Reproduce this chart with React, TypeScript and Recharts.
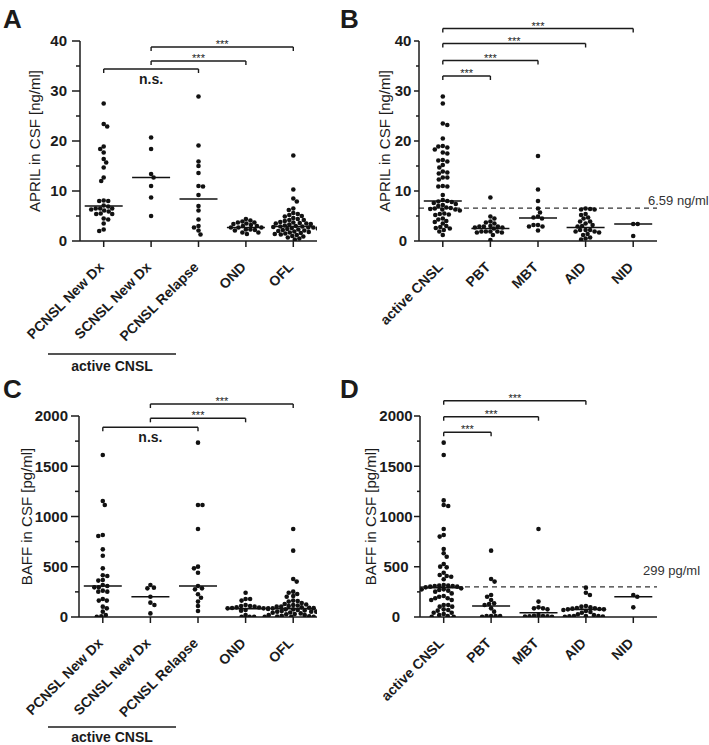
import React from 'react';
import { ScatterChart, Scatter, XAxis, YAxis, ReferenceLine, ReferenceDot } from 'recharts';

const FONT = '"Liberation Sans", Arial, Helvetica, sans-serif';
const INK = '#1b1b1b';

// ---------- categories ----------
const groupsAC = ['PCNSL New Dx', 'SCNSL New Dx', 'PCNSL Relapse', 'OND', 'OFL'];
const groupsBD = ['active CNSL', 'PBT', 'MBT', 'AID', 'NID'];

// ---------- tick values ----------
const aprilTicks = [0, 5, 10, 15, 20, 25, 30, 35, 40];
const baffTicks = [0, 250, 500, 750, 1000, 1250, 1500, 1750, 2000];

// ---------- Panel A: APRIL (ng/ml) ----------
const aprilPcnslNew = [27.5, 23.4, 22.9, 18.9, 18.4, 17.7, 16.4, 15.7, 14.7, 12.7, 12.0, 8.1, 8.0, 8.0, 7.1, 6.9, 6.5, 6.5, 6.5, 6.3, 6.1, 5.9, 5.5, 5.4, 5.4, 4.5, 4.3, 3.5, 2.3, 2.0];
const aprilScnslNew = [20.7, 18.4, 13.4, 12.7, 11.0, 8.7, 5.0];
const aprilPcnslRelapse = [28.9, 19.1, 15.9, 15.0, 13.6, 11.0, 10.9, 9.2, 7.0, 6.1, 4.3, 3.0, 2.7, 2.1, 1.3];
const aprilOnd = [4.4, 4.1, 3.9, 3.7, 3.7, 3.5, 3.4, 3.2, 3.0, 3.0, 2.7, 2.7, 2.7, 2.3, 2.3, 2.2, 2.1, 1.7, 1.7, 1.4];
const aprilOfl = [17.1, 10.3, 8.5, 7.9, 6.5, 6.2, 5.6, 5.4, 5.2, 5.0, 4.9, 4.6, 4.4, 4.2, 4.2, 4.0, 3.8, 3.7, 3.6, 3.5, 3.5, 3.4, 3.3, 3.1, 3.0, 2.9, 2.9, 2.8, 2.7, 2.7, 2.6, 2.5, 2.4, 2.3, 2.2, 2.1, 2.0, 1.9, 1.8, 1.7, 1.6, 1.5, 1.4, 1.3, 1.2, 1.0, 0.9, 0.7, 0.5, 0.3];
const aprilMediansA = [7.0, 12.7, 8.4, 2.7, 2.9];

// ---------- Panel B: APRIL (ng/ml) ----------
const aprilActive = [28.9, 27.5, 23.5, 23.2, 20.5, 19.0, 18.9, 18.7, 18.3, 17.7, 17.5, 16.2, 16.1, 15.9, 15.2, 14.7, 13.9, 13.7, 13.5, 12.7, 12.7, 12.3, 11.0, 10.9, 10.9, 9.2, 8.2, 8.0, 7.9, 7.8, 7.6, 7.4, 7.2, 7.0, 6.7, 6.6, 6.5, 6.4, 6.3, 6.3, 6.1, 5.5, 5.4, 5.3, 5.2, 4.5, 4.3, 4.0, 3.8, 3.5, 3.0, 2.8, 2.6, 2.5, 2.2, 1.9, 1.2];
const aprilPbt = [8.7, 4.9, 4.5, 3.9, 3.7, 3.5, 3.0, 2.9, 2.9, 2.9, 2.7, 2.7, 2.5, 1.9, 1.9, 1.9, 1.9, 1.7, 1.7, 1.2, 0.2];
const aprilMbt = [17.0, 10.3, 8.0, 6.5, 5.7, 4.9, 4.7, 4.5, 3.2, 3.2, 2.9, 2.9, 2.1];
const aprilAid = [6.5, 6.4, 6.3, 6.3, 5.4, 5.2, 4.7, 4.5, 3.9, 3.9, 3.5, 3.2, 3.0, 2.9, 2.2, 2.2, 2.2, 1.9, 1.9, 1.7, 1.4, 1.2, 0.7, 0.5, 0.3];
const aprilNid = [3.4, 3.4, 1.0];
const aprilMediansB = [8.0, 2.5, 4.6, 2.7, 3.4];
const aprilCutoff = 6.59;

// ---------- Panel C: BAFF (pg/ml) ----------
const baffPcnslNew = [1612, 1154, 1114, 816, 806, 673, 610, 484, 415, 408, 368, 362, 318, 308, 295, 295, 262, 252, 252, 179, 163, 163, 103, 86, 53, 20, 7, 3];
const baffScnslNew = [318, 292, 285, 202, 143, 119, 36];
const baffPcnslRelapse = [1735, 1114, 1114, 876, 501, 484, 441, 308, 285, 275, 226, 192, 153, 109, 60];
const baffOnd = [242, 179, 179, 163, 119, 109, 109, 103, 96, 95, 90, 86, 86, 80, 70, 63, 20, 3, 3, 3];
const baffOfl = [876, 660, 378, 352, 252, 242, 229, 209, 202, 163, 159, 153, 140, 130, 125, 119, 115, 109, 103, 103, 96, 92, 88, 86, 86, 76, 76, 70, 65, 60, 53, 53, 53, 45, 43, 36, 30, 27, 20, 20, 20, 12, 8, 5, 3, 3, 3, 2];
const baffMediansC = [308, 202, 308, 83, 83];

// ---------- Panel D: BAFF (pg/ml) ----------
const baffActive = [1735, 1612, 1160, 1114, 1104, 876, 816, 800, 677, 634, 600, 527, 501, 494, 441, 418, 408, 401, 375, 318, 312, 312, 308, 308, 302, 302, 295, 285, 275, 275, 269, 262, 252, 235, 209, 202, 186, 186, 169, 169, 119, 119, 103, 103, 76, 70, 63, 43, 43, 30, 20, 10, 3, 3];
const baffPbt = [660, 378, 352, 219, 202, 169, 136, 129, 119, 86, 53, 10, 10, 10, 10, 3];
const baffMbt = [876, 153, 96, 86, 86, 76, 20, 12, 10, 8, 6, 4, 2];
const baffAid = [292, 242, 219, 109, 103, 96, 90, 86, 83, 80, 76, 76, 70, 60, 50, 43, 27, 20, 10, 10, 10, 8, 5, 3];
const baffNid = [219, 202, 96];
const baffMediansD = [292, 109, 43, 76, 202];
const baffCutoff = 299;

// ---------- significance brackets (from group, to group, level, text) ----------
type Bracket = { from: number; to: number; y: number; label: string };
const bracketsA: Bracket[] = [
  { from: 0, to: 2, y: 34.4, label: 'n.s.' },
  { from: 1, to: 3, y: 36.0, label: '***' },
  { from: 1, to: 4, y: 38.8, label: '***' },
];
const bracketsB: Bracket[] = [
  { from: 0, to: 1, y: 33.0, label: '***' },
  { from: 0, to: 2, y: 36.1, label: '***' },
  { from: 0, to: 3, y: 39.5, label: '***' },
  { from: 0, to: 4, y: 42.5, label: '***' },
];
const bracketsC: Bracket[] = [
  { from: 0, to: 2, y: 1888, label: 'n.s.' },
  { from: 1, to: 3, y: 1977, label: '***' },
  { from: 1, to: 4, y: 2119, label: '***' },
];
const bracketsD: Bracket[] = [
  { from: 0, to: 1, y: 1838, label: '***' },
  { from: 0, to: 2, y: 1993, label: '***' },
  { from: 0, to: 3, y: 2152, label: '***' },
];

// Deterministic column-scatter (beeswarm) layout derived from values
function swarm(values: number[], center: number, pxX: number, pxY: number, d: number) {
  const placed: [number, number][] = [];
  const out: { x: number; y: number }[] = [];
  const sorted = [...values].sort((a, b) => b - a);
  sorted.forEach((v) => {
    const py = v * pxY;
    let chosen = 0;
    const right = placed.filter((q) => q[0] > 0).length;
    const left = placed.filter((q) => q[0] < 0).length;
    for (let k = 0; k < 600; k++) {
      const mag = k * 0.5;
      const cands = k === 0 ? [0] : right <= left ? [mag, -mag] : [-mag, mag];
      let ok = false;
      for (const c of cands) {
        if (placed.every(([qx, qy]) => (qx - c) ** 2 + (qy - py) ** 2 >= d * d)) {
          chosen = c;
          ok = true;
          break;
        }
      }
      if (ok) break;
    }
    placed.push([chosen, py]);
    out.push({ x: center + chosen / pxX, y: v });
  });
  return out;
}

interface PanelProps {
  left: number;
  top: number;
  width: number;
  height: number;
  margin: { top: number; right: number; bottom: number; left: number };
  yAxisWidth: number;
  xAxisHeight: number;
  groups: string[];
  values: number[][];
  medians: number[];
  yMax: number;
  ticks: number[];
  majorStep: number;
  yLabel: string;
  yLabelOffset: number;
  tickMajorLen: number;
  tickMinorLen: number;
  tickLabelGap: number;
  tickAnchor: 'end' | 'middle';
  brackets: Bracket[];
  cutoff?: number;
  cutoffLabel?: string;
  cutoffDx?: number;
  cutoffDy?: number;
}

function Panel(p: PanelProps) {
  const plotW = p.width - p.margin.left - p.margin.right - p.yAxisWidth;
  const plotH = p.height - p.margin.top - p.margin.bottom - p.xAxisHeight;
  const pxX = plotW / 5;
  const pxY = plotH / p.yMax;
  const dotSets = p.values.map((vals, i) => swarm(vals, i, pxX, pxY, 4.3));
  const medianPts = p.medians.map((m, i) => ({ x: i, y: m }));
  const tickU = 4 / pxY;

  const yTick = (t: any) => {
    const v = t.payload.value;
    const major = v % p.majorStep === 0;
    const len = major ? p.tickMajorLen : p.tickMinorLen;
    return (
      <g>
        <line x1={t.x - len} x2={t.x} y1={t.y} y2={t.y} stroke={INK} strokeWidth={1.5} />
        {major && (
          <text
            x={t.x - p.tickLabelGap}
            y={t.y}
            dy="0.36em"
            textAnchor={p.tickAnchor}
            fontSize={15}
            fontWeight="bold"
            fontFamily={FONT}
            fill={INK}
          >
            {v}
          </text>
        )}
      </g>
    );
  };

  const xTick = (t: any) => {
    const name = p.groups[t.payload.value] ?? '';
    const ax = t.x + 1;
    const ay = t.y + 21;
    return (
      <text
        x={ax}
        y={ay}
        transform={`rotate(-45 ${ax} ${ay})`}
        textAnchor="end"
        fontSize={14}
        fontWeight="bold"
        fontFamily={FONT}
        fill={INK}
      >
        {name}
      </text>
    );
  };

  return (
    <div style={{ position: 'absolute', left: p.left, top: p.top }}>
      <ScatterChart width={p.width} height={p.height} margin={p.margin}>
        <XAxis
          type="number"
          dataKey="x"
          domain={[-0.5, 4.5]}
          ticks={[0, 1, 2, 3, 4]}
          interval={0}
          allowDataOverflow
          height={p.xAxisHeight}
          tickSize={6}
          tickMargin={0}
          axisLine={{ stroke: INK, strokeWidth: 1.5 }}
          tickLine={{ stroke: INK, strokeWidth: 1.5 }}
          tick={xTick}
        />
        <YAxis
          type="number"
          dataKey="y"
          domain={[0, p.yMax]}
          ticks={p.ticks}
          interval={0}
          allowDataOverflow
          width={p.yAxisWidth}
          tickSize={0}
          tickMargin={0}
          tickLine={false}
          axisLine={{ stroke: INK, strokeWidth: 1.5 }}
          tick={yTick}
          label={{
            value: p.yLabel,
            angle: -90,
            position: 'insideLeft',
            offset: p.yLabelOffset,
            style: { textAnchor: 'middle', fontSize: 15, fill: INK, fontFamily: FONT },
          }}
        />
        {p.cutoff !== undefined && (
          <ReferenceLine y={p.cutoff} stroke="#333" strokeDasharray="5 4" strokeWidth={1.3} ifOverflow="visible" />
        )}
        {p.cutoff !== undefined && (
          <ReferenceDot
            x={4.5}
            y={p.cutoff}
            r={0}
            ifOverflow="visible"
            shape={(s: any) => (
              <text
                x={s.cx + (p.cutoffDx ?? 0)}
                y={s.cy + (p.cutoffDy ?? 0)}
                fontSize={13}
                fontFamily={FONT}
                fill="#333"
              >
                {p.cutoffLabel}
              </text>
            )}
          />
        )}
        {p.brackets.map((b, i) => (
          <ReferenceLine
            key={`bh${i}`}
            segment={[
              { x: b.from, y: b.y },
              { x: b.to, y: b.y },
            ]}
            stroke={INK}
            strokeWidth={1.4}
            ifOverflow="visible"
          />
        ))}
        {p.brackets.map((b, i) => (
          <ReferenceLine
            key={`bl${i}`}
            segment={[
              { x: b.from, y: b.y },
              { x: b.from, y: b.y - tickU },
            ]}
            stroke={INK}
            strokeWidth={1.4}
            ifOverflow="visible"
          />
        ))}
        {p.brackets.map((b, i) => (
          <ReferenceLine
            key={`br${i}`}
            segment={[
              { x: b.to, y: b.y },
              { x: b.to, y: b.y - tickU },
            ]}
            stroke={INK}
            strokeWidth={1.4}
            ifOverflow="visible"
          />
        ))}
        {p.brackets.map((b, i) => (
          <ReferenceDot
            key={`bt${i}`}
            x={(b.from + b.to) / 2}
            y={b.y}
            r={0}
            ifOverflow="visible"
            shape={(s: any) =>
              b.label === 'n.s.' ? (
                <text x={s.cx} y={s.cy + 15} textAnchor="middle" fontSize={14} fontWeight="bold" fontFamily={FONT} fill={INK}>
                  {b.label}
                </text>
              ) : (
                <text x={s.cx} y={s.cy + 1} textAnchor="middle" fontSize={11} fontFamily={FONT} fill={INK}>
                  {b.label}
                </text>
              )
            }
          />
        ))}
        {dotSets.map((pts, i) => (
          <Scatter
            key={`s${i}`}
            data={pts}
            isAnimationActive={false}
            shape={(s: any) => <circle cx={s.cx} cy={s.cy} r={2.3} fill="#111" />}
          />
        ))}
        <Scatter
          data={medianPts}
          isAnimationActive={false}
          shape={(s: any) => (
            <line x1={s.cx - 19} x2={s.cx + 19} y1={s.cy} y2={s.cy} stroke="#111" strokeWidth={1.6} />
          )}
        />
      </ScatterChart>
    </div>
  );
}

export default function App() {
  return (
    <div style={{ position: 'absolute', left: 0, top: 0, width: 709, height: 745, background: '#fff', fontFamily: FONT }}>
      <Panel
        left={0}
        top={0}
        width={354}
        height={372}
        margin={{ top: 41, right: 37, bottom: 101, left: 20 }}
        yAxisWidth={60}
        xAxisHeight={30}
        groups={groupsAC}
        values={[aprilPcnslNew, aprilScnslNew, aprilPcnslRelapse, aprilOnd, aprilOfl]}
        medians={aprilMediansA}
        yMax={40}
        ticks={aprilTicks}
        majorStep={10}
        yLabel="APRIL in CSF [ng/ml]"
        yLabelOffset={15}
        tickMajorLen={8}
        tickMinorLen={4}
        tickLabelGap={13}
        tickAnchor="end"
        brackets={bracketsA}
      />
      <Panel
        left={354}
        top={0}
        width={355}
        height={372}
        margin={{ top: 41, right: 52, bottom: 101, left: 20 }}
        yAxisWidth={45}
        xAxisHeight={30}
        groups={groupsBD}
        values={[aprilActive, aprilPbt, aprilMbt, aprilAid, aprilNid]}
        medians={aprilMediansB}
        yMax={40}
        ticks={aprilTicks}
        majorStep={10}
        yLabel="APRIL in CSF [ng/ml]"
        yLabelOffset={11}
        tickMajorLen={5}
        tickMinorLen={3}
        tickLabelGap={16}
        tickAnchor="middle"
        brackets={bracketsB}
        cutoff={aprilCutoff}
        cutoffLabel="6.59 ng/ml"
        cutoffDx={-9}
        cutoffDy={-3}
      />
      <Panel
        left={0}
        top={372}
        width={354}
        height={373}
        margin={{ top: 44, right: 37, bottom: 98, left: 20 }}
        yAxisWidth={59}
        xAxisHeight={30}
        groups={groupsAC}
        values={[baffPcnslNew, baffScnslNew, baffPcnslRelapse, baffOnd, baffOfl]}
        medians={baffMediansC}
        yMax={2000}
        ticks={baffTicks}
        majorStep={500}
        yLabel="BAFF in CSF [pg/ml]"
        yLabelOffset={7}
        tickMajorLen={8}
        tickMinorLen={4}
        tickLabelGap={11}
        tickAnchor="end"
        brackets={bracketsC}
      />
      <Panel
        left={354}
        top={372}
        width={355}
        height={373}
        margin={{ top: 44, right: 52, bottom: 98, left: 10 }}
        yAxisWidth={56}
        xAxisHeight={30}
        groups={groupsBD}
        values={[baffActive, baffPbt, baffMbt, baffAid, baffNid]}
        medians={baffMediansD}
        yMax={2000}
        ticks={baffTicks}
        majorStep={500}
        yLabel="BAFF in CSF [pg/ml]"
        yLabelOffset={7}
        tickMajorLen={6}
        tickMinorLen={3}
        tickLabelGap={24}
        tickAnchor="middle"
        brackets={bracketsD}
        cutoff={baffCutoff}
        cutoffLabel="299 pg/ml"
        cutoffDx={-14}
        cutoffDy={-12}
      />
      <svg width={709} height={745} style={{ position: 'absolute', left: 0, top: 0, pointerEvents: 'none' }}>
        <g fontFamily={FONT} fontWeight="bold" fill={INK}>
          <text x={3} y={28} fontSize={26}>A</text>
          <text x={340} y={28} fontSize={26}>B</text>
          <text x={3} y={398} fontSize={26}>C</text>
          <text x={340} y={398} fontSize={26}>D</text>
          <line x1={48} x2={176} y1={354} y2={354} stroke={INK} strokeWidth={1.5} />
          <text x={112} y={371} fontSize={14} textAnchor="middle">active CNSL</text>
          <line x1={48} x2={176} y1={727} y2={727} stroke={INK} strokeWidth={1.5} />
          <text x={112} y={742} fontSize={14} textAnchor="middle">active CNSL</text>
        </g>
      </svg>
    </div>
  );
}
